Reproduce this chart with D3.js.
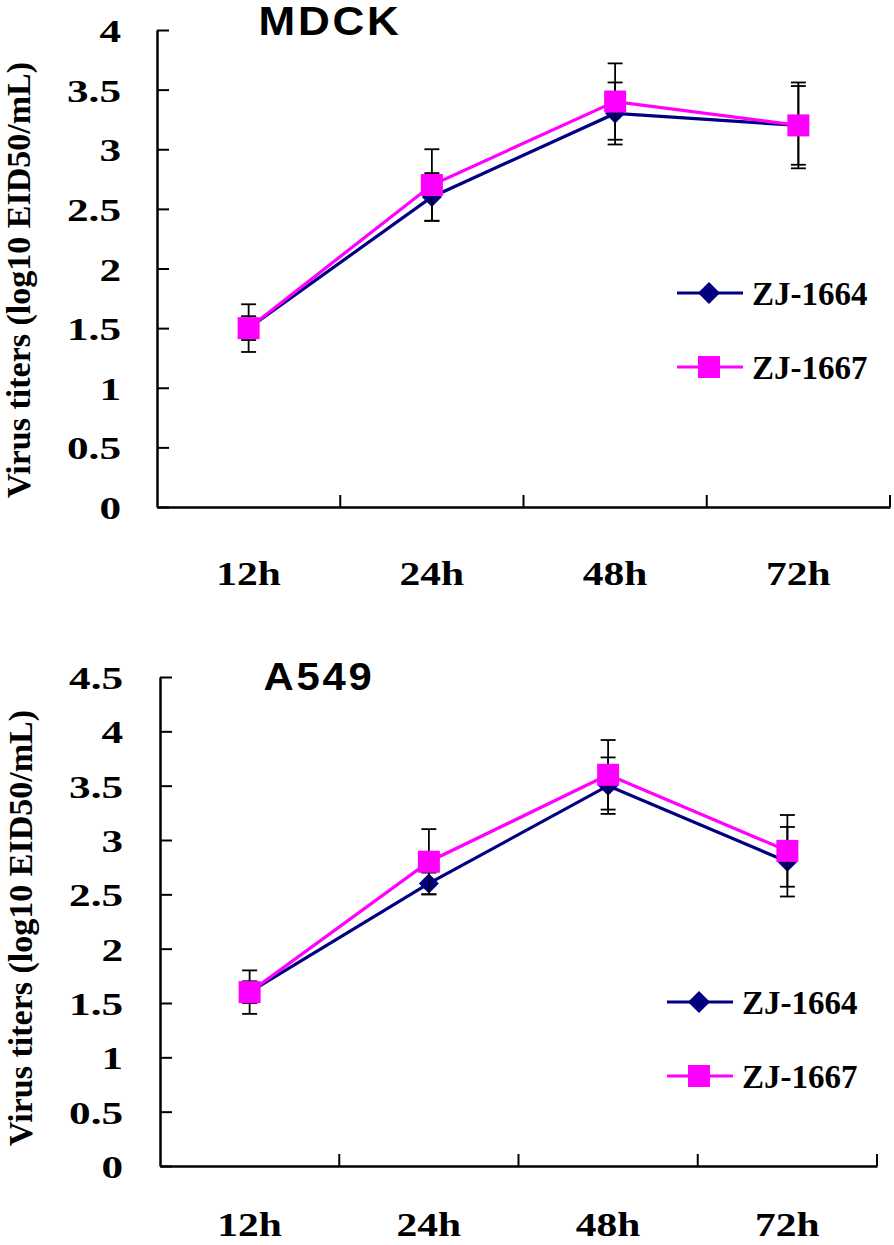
<!DOCTYPE html>
<html>
<head>
<meta charset="utf-8">
<script src="https://cdn.jsdelivr.net/npm/d3@7"></script>
<style>
  html, body { margin: 0; padding: 0; background: #fff; }
  svg { display: block; }
</style>
</head>
<body>
<svg id="chart" width="894" height="1245"></svg>
<script>
// ---- data ----
const categories = ["12h", "24h", "48h", "72h"];
const seriesNames = ["ZJ-1664", "ZJ-1667"];

const mdckZJ1664 = [1.5, 2.6, 3.3, 3.2];
const mdckZJ1664Err = [0.1, 0.2, 0.26, 0.33];
const mdckZJ1667 = [1.5, 2.7, 3.4, 3.2];
const mdckZJ1667Err = [0.2, 0.3, 0.32, 0.36];
const mdckTicks = [0, 0.5, 1, 1.5, 2, 2.5, 3, 3.5, 4];

const a549ZJ1664 = [1.6, 2.6, 3.5, 2.8];
const a549ZJ1664Err = [0.1, 0.1, 0.26, 0.32];
const a549ZJ1667 = [1.6, 2.8, 3.6, 2.9];
const a549ZJ1667Err = [0.2, 0.3, 0.32, 0.33];
const a549Ticks = [0, 0.5, 1, 1.5, 2, 2.5, 3, 3.5, 4, 4.5];

const yLabel = "Virus titers (log10 EID50/mL)";
const colors = ["#000080", "#ff00ff"];

const svg = d3.select("#chart");
svg.append("rect").attr("width", 894).attr("height", 1245).attr("fill", "#fff");

const SERIF = "'Liberation Serif', 'Times New Roman', serif";
const SANS = "'Liberation Sans', Arial, sans-serif";

function diamondPath(s) {
  return `M0,${-s} L${s},0 L0,${s} L${-s},0 Z`;
}

function drawPanel(p) {
  const g = svg.append("g");
  const x = d3.scaleBand().domain(categories).range([p.x0, p.x1]);
  const y = d3.scaleLinear().domain([0, p.yMax]).range([p.yBottom, p.yTop]);

  // y axis
  const yScaleX = 1.35;
  const yAxis = d3.axisLeft(y).tickValues(p.ticks).tickSize(-12).tickSizeOuter(0)
    .tickFormat(d => String(d));
  const ya = g.append("g").attr("transform", `translate(${p.x0},0)`).call(yAxis);
  ya.select(".domain").attr("stroke", "#000").attr("stroke-width", 2.5);
  ya.selectAll(".tick line").attr("stroke", "#000").attr("stroke-width", 2);
  ya.selectAll(".tick text")
    .attr("x", -(p.x0 - p.yTickRight) / yScaleX)
    .attr("dy", "0.36em")
    .attr("transform", `scale(${yScaleX},1)`)
    .style("font-family", SERIF).style("font-weight", "bold").style("font-size", "32px")
    .attr("fill", "#000");

  // x axis (labels at band centers)
  const xAxis = d3.axisBottom(x).tickSize(0).tickSizeOuter(0).tickPadding(0);
  const xa = g.append("g").attr("transform", `translate(0,${p.yBottom})`).call(xAxis);
  xa.select(".domain").attr("stroke", "#000").attr("stroke-width", 2.5);
  xa.selectAll(".tick text")
    .attr("y", p.xLabelDy).attr("dy", 0)
    .attr("transform", "scale(1.22,1)")
    .style("font-family", SERIF).style("font-weight", "bold").style("font-size", "34px")
    .attr("fill", "#000");

  // x boundary ticks (inward)
  const bounds = categories.map(c => x(c)).concat([x(categories[categories.length - 1]) + x.bandwidth()]);
  g.selectAll(".xb").data(bounds.slice(1)).enter().append("line")
    .attr("x1", d => d).attr("x2", d => d)
    .attr("y1", p.yBottom).attr("y2", p.yBottom - 12)
    .attr("stroke", "#000").attr("stroke-width", 2);

  // series
  const series = [
    { name: seriesNames[0], vals: p.s1, err: p.e1, color: colors[0], marker: "diamond" },
    { name: seriesNames[1], vals: p.s2, err: p.e2, color: colors[1], marker: "square" }
  ];
  const cx = c => x(c) + x.bandwidth() / 2;
  const line = d3.line().x(d => cx(d.c)).y(d => y(d.v));

  series.forEach(s => {
    const pts = categories.map((c, i) => ({ c, v: s.vals[i], e: s.err[i] }));
    const sg = g.append("g");
    // error bars
    pts.forEach(d => {
      const xx = cx(d.c);
      sg.append("line").attr("x1", xx).attr("x2", xx)
        .attr("y1", y(d.v + d.e)).attr("y2", y(d.v - d.e))
        .attr("stroke", "#000").attr("stroke-width", 1.8);
      [d.v + d.e, d.v - d.e].forEach(v => {
        sg.append("line").attr("x1", xx - 7.5).attr("x2", xx + 7.5)
          .attr("y1", y(v)).attr("y2", y(v))
          .attr("stroke", "#000").attr("stroke-width", 1.8);
      });
    });
    sg.append("path").datum(pts).attr("d", line)
      .attr("fill", "none").attr("stroke", s.color).attr("stroke-width", 3.2);
    pts.forEach(d => {
      if (s.marker === "diamond") {
        sg.append("path").attr("d", diamondPath(10))
          .attr("transform", `translate(${cx(d.c)},${y(d.v)})`)
          .attr("fill", s.color);
      } else {
        sg.append("rect").attr("x", cx(d.c) - 11).attr("y", y(d.v) - 11)
          .attr("width", 22).attr("height", 22).attr("fill", s.color);
      }
    });
  });

  // legend
  series.forEach((s, i) => {
    const ly = p.legY[i];
    g.append("line").attr("x1", p.legX0).attr("x2", p.legX0 + 66)
      .attr("y1", ly).attr("y2", ly).attr("stroke", s.color).attr("stroke-width", 3.2);
    const mx = p.legX0 + 32;
    if (s.marker === "diamond") {
      g.append("path").attr("d", diamondPath(11)).attr("transform", `translate(${mx},${ly})`).attr("fill", s.color);
    } else {
      g.append("rect").attr("x", mx - 11).attr("y", ly - 11).attr("width", 22).attr("height", 22).attr("fill", s.color);
    }
    g.append("text").attr("x", p.legX0 + 75).attr("y", ly + 12)
      .style("font-family", SERIF).style("font-weight", "bold").style("font-size", "33px")
      .text(s.name);
  });

  // title
  g.append("text").attr("transform", `translate(${p.titleX},${p.titleY}) scale(1.1,1)`)
    .attr("text-anchor", "middle")
    .style("font-family", SANS).style("font-weight", "bold").style("font-size", p.titleSize + "px")
    .style("letter-spacing", "2.5px")
    .text(p.title);

  // y label
  g.append("text").attr("transform", `translate(${p.yLabelX},${p.yLabelY}) rotate(-90)`)
    .attr("text-anchor", "middle")
    .style("font-family", SERIF).style("font-weight", "bold").style("font-size", "34px")
    .text(yLabel);
}

drawPanel({
  title: "MDCK", titleX: 330, titleY: 35, titleSize: 40,
  x0: 157, x1: 890, yTop: 30, yBottom: 507, yMax: 4, ticks: mdckTicks, yTickRight: 121,
  s1: mdckZJ1664, e1: mdckZJ1664Err, s2: mdckZJ1667, e2: mdckZJ1667Err,
  xLabelDy: 78, legX0: 677, legY: [293, 367], yLabelX: 30, yLabelY: 280
});

drawPanel({
  title: "A549", titleX: 319, titleY: 690, titleSize: 38,
  x0: 160, x1: 877, yTop: 677, yBottom: 1166, yMax: 4.5, ticks: a549Ticks, yTickRight: 123,
  s1: a549ZJ1664, e1: a549ZJ1664Err, s2: a549ZJ1667, e2: a549ZJ1667Err,
  xLabelDy: 70, legX0: 667, legY: [1002, 1076], yLabelX: 32, yLabelY: 928
});
</script>
</body>
</html>
